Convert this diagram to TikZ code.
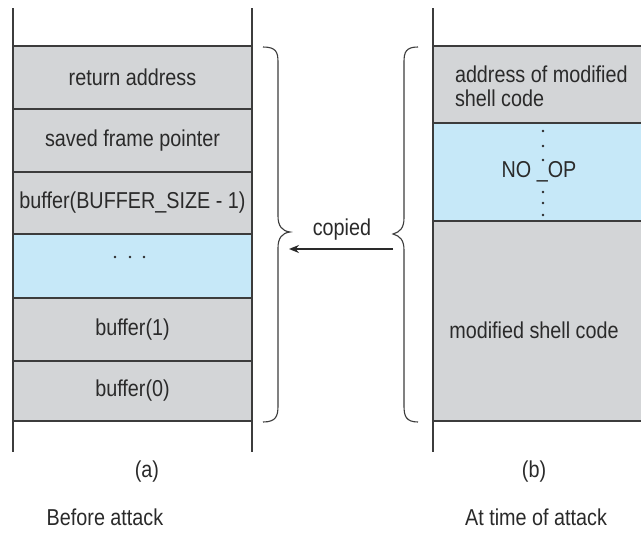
\documentclass[tikz,border=0pt]{standalone}
\usepackage{fontspec}
\setmainfont[FakeStretch=0.86]{Liberation Sans}
\usetikzlibrary{arrows.meta}
\definecolor{cellgray}{HTML}{D3D5D7}
\definecolor{cellblue}{HTML}{C6E8F8}
\definecolor{linegray}{HTML}{3C3C3C}
\definecolor{txtgray}{HTML}{2A2A2A}
\begin{document}
\begin{tikzpicture}[x=1pt,y=-1pt,
  cell/.style={inner sep=0pt, outer sep=0pt, text=txtgray, font=\fontsize{23}{24}\selectfont},
  lbl/.style={inner sep=0pt, text=txtgray, font=\fontsize{23}{24}\selectfont},
  stackline/.style={draw=linegray, line width=1.2pt},
  bracestyle/.style={draw=linegray, line width=1.1pt},
  dotstyle/.style={circle, fill=txtgray, inner sep=0pt, minimum size=2.6pt}]
\useasboundingbox[fill=white] (0,0) rectangle (641,533);
% left stack cells
\node[cell, fill=cellgray, minimum width=239pt, minimum height=63pt] (ra)  at (132.5,77.5)  {return address};
\node[cell, fill=cellgray, minimum width=239pt, minimum height=63pt] (sfp) at (132.5,140.5) {saved frame pointer};
\node[cell, fill=cellgray, minimum width=239pt, minimum height=62pt] (bsz) at (132.5,203)   {buffer(BUFFER\_SIZE - 1)};
\node[cell, fill=cellblue, minimum width=239pt, minimum height=64pt] (bdots) at (132.5,266) {};
\node[cell, fill=cellgray, minimum width=239pt, minimum height=63pt] (b1)  at (132.5,329.5) {buffer(1)};
\node[cell, fill=cellgray, minimum width=239pt, minimum height=60pt] (b0)  at (132.5,391)   {buffer(0)};
\node[dotstyle] (d1) at (115,257) {};
\node[dotstyle] (d2) at (130,257) {};
\node[dotstyle] (d3) at (144,257) {};
% right stack cells
\node[cell, fill=cellgray, minimum width=208pt, minimum height=77pt] (addr) at (537,84.5) {};
\node[cell, anchor=west, align=left] (addrtxt) at (455,86) {address of modified\\shell code};
\node[cell, fill=cellblue, minimum width=208pt, minimum height=98pt] (noop) at (537,172) {};
\node[cell] (nooptxt) at (539,172) {NO \_OP};
\foreach \y [count=\i] in {131,146,160,192,203,215} \node[dotstyle] (v\i) at (543,\y) {};
\node[cell, fill=cellgray, minimum width=208pt, minimum height=200pt] (shell) at (537,321) {};
\node[cell] (shelltxt) at (534,330) {modified shell code};
% left stack lines
\draw[stackline] (13,8) -- (13,452);
\draw[stackline] (252,8) -- (252,452);
\foreach \y in {46,109,172,234,298,361,421} \draw[stackline] (13,\y) -- (252,\y);
% right stack lines
\draw[stackline] (433,8) -- (433,452);
\foreach \y in {46,123,221,421} \draw[stackline] (433,\y) -- (641,\y);
% braces
\draw[bracestyle] (263,47) .. controls (276,47) and (278,52) .. (278,62)
  -- (278,216) .. controls (278,226) and (282,231) .. (290,232)
  .. controls (282,233) and (278,238) .. (278,248)
  -- (278,406) .. controls (278,416) and (276,422) .. (263,422);
\draw[bracestyle] (418,47) .. controls (406,47) and (404,52) .. (404,62)
  -- (404,218) .. controls (404,228) and (400,232) .. (393,234)
  .. controls (400,236) and (404,240) .. (404,250)
  -- (404,406) .. controls (404,416) and (406,422) .. (418,422);
% arrow
\coordinate (arrs) at (393,249);
\coordinate (arre) at (289,249);
\draw[draw=txtgray, line width=1.5pt, -{Stealth[length=10pt,width=8pt]}] (arrs) -- (arre);
\node[lbl] (copied) at (342,230) {copied};
% captions
\node[lbl] (capa) at (147,472) {(a)};
\node[lbl] (capb) at (534,472) {(b)};
\node[lbl] (before) at (105,517) {Before attack};
\node[lbl] (attime) at (536,517) {At time of attack};
\end{tikzpicture}
\end{document}
